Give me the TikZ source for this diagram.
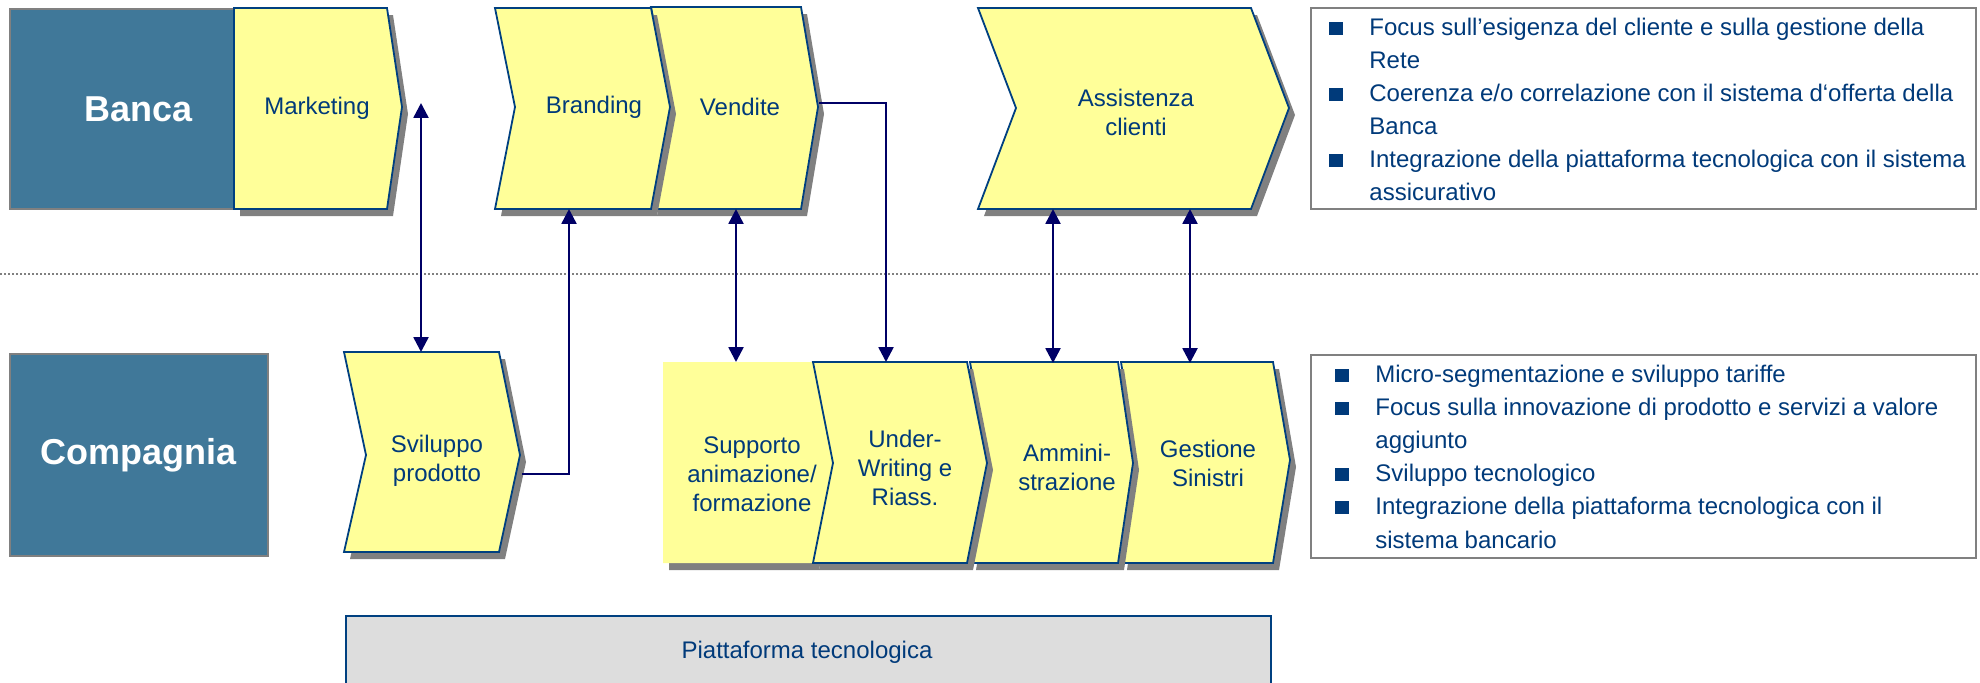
\documentclass[tikz,border=0pt]{standalone}
\usepackage{fontspec}
\setmainfont{Liberation Sans}
\usepackage{xcolor}
\definecolor{ColFill}{RGB}{255,255,153}
\definecolor{ColLine}{RGB}{0,64,128}
\definecolor{ColText}{RGB}{0,58,122}
\definecolor{ColHead}{RGB}{64,120,153}
\definecolor{ColArrow}{RGB}{0,0,102}
\definecolor{ColShadow}{RGB}{128,128,128}
\definecolor{ColPlat}{RGB}{221,221,221}
\usetikzlibrary{arrows.meta}
\tikzstyle{Chev}=[fill=ColFill,draw=ColLine,line width=0.9pt,line join=miter]
\tikzstyle{Shadow}=[fill=ColShadow]
\tikzstyle{Head}=[fill=ColHead,draw=ColShadow,line width=1pt,text=white,
font=\fontsize{18}{21}\selectfont\bfseries,minimum width=129pt,inner sep=0pt]
\tikzstyle{Label}=[text=ColText,align=center,font=\fontsize{12}{14.5}\selectfont,
inner sep=0pt]
\tikzstyle{Info}=[draw=ColShadow,line width=1pt,fill=white,minimum width=332.5pt,
inner sep=0pt]
\tikzstyle{InfoText}=[text=ColText,anchor=base west,
font=\fontsize{12}{16.5}\selectfont,inner sep=0pt]
\tikzstyle{Bullet}=[fill=ColText,minimum width=7pt,minimum height=6.5pt,inner sep=0pt]
\tikzstyle{Plat}=[fill=ColPlat,draw=ColLine,line width=1pt]
\tikzstyle{Link}=[draw=ColArrow,line width=1.25pt]
\tikzstyle{Sep}=[draw=ColShadow,line width=0.9pt,dash pattern=on 0.9pt off 1.1pt]
\newcommand{\Chevron}[8][]{%
  \fill[Shadow,shift={(6,7)}](#2,#6)--(#4,#6)--(#5,#7)--(#4,#8)--(#2,#8)--(#3,#7)--cycle;
  \path[Chev,#1](#2,#6)--(#4,#6)--(#5,#7)--(#4,#8)--(#2,#8)--(#3,#7)--cycle;}
\begin{document}
\begin{tikzpicture}[x=0.5pt,y=-0.5pt,>={Triangle[width=7.4pt,length=7.4pt]}]
    \useasboundingbox (0,0) rectangle (1980,682);
        \coordinate (sepl) at (0,274);
        \coordinate (sepr) at (1980,274);
        \draw[Sep](sepl)--(sepr);
        \node[Head,minimum height=100pt](banca)at(139,109){Banca};
        \node[Head,minimum height=101pt](comp)at(139,455){Compagnia};
        \Chevron{234}{234}{387}{402}{8}{107}{209}
        \Chevron{651}{670}{801}{818}{7}{107}{209}
        \Chevron{495}{515}{651}{670}{8}{107}{209}
        \Chevron{978}{1016}{1251}{1289}{8}{108}{209}
        \Chevron{344}{366}{499}{520}{352}{455}{552}
        \Chevron[draw=none]{663}{663}{813}{833}{362}{463}{563}
        \Chevron{1121}{1136}{1273}{1290}{362}{460}{563}
        \Chevron{970}{987}{1118}{1133}{362}{463}{563}
        \Chevron{813}{833}{967}{987}{362}{463}{563}
        \node[Label](mkt)at(317,108){Marketing};
        \node[Label](bra)at(594,107){Branding};
        \node[Label](ven)at(740,107){Vendite};
        \node[Label](ass)at(1136,112){Assistenza\\clienti};
        \node[Label](svi)at(437,461){Sviluppo\\prodotto};
        \node[Label](sup)at(752,474){Supporto\\animazione/\\formazione};
        \node[Label](und)at(905,468){Under-\\Writing e\\Riass.};
        \node[Label](amm)at(1067,467){Ammini-\\strazione};
        \node[Label](ges)at(1208,463){Gestione\\Sinistri};
        \node[Info,minimum height=100.5pt](infob)at(1643.5,108.5){};
        \node[Info,minimum height=101.5pt](infoc)at(1643.5,456.5){};
        \foreach \n/\t in {0/{Focus sull’esigenza del cliente e sulla gestione della},
            1/{Rete},2/{Coerenza e/o correlazione con il sistema d‘offerta della},
            3/{Banca},4/{Integrazione della piattaforma tecnologica con il sistema},
            5/{assicurativo}}
            \node[InfoText](tb\n)at(1369,{35+33*\n}){\t};
        \foreach \n in {0,2,4}
            \node[Bullet](tq\n)at(1336,{28+33*\n}){};
        \foreach \n/\t in {0/{Micro-segmentazione e sviluppo tariffe},
            1/{Focus sulla innovazione di prodotto e servizi a valore},
            2/{aggiunto},3/{Sviluppo tecnologico},
            4/{Integrazione della piattaforma tecnologica con il},
            5/{sistema bancario}}
            \node[InfoText](cb\n)at(1375,{382+33.2*\n}){\t};
        \foreach \n in {0,1,3,4}
            \node[Bullet](cq\n)at(1342,{375+33.2*\n}){};
        \draw[Plat](346,616)rectangle(1271,700);
        \node[Label](pla)at(807,652){Piattaforma tecnologica};
        \coordinate (mkt-p) at (421,103);
        \coordinate (svi-p) at (421,352);
        \coordinate (svi-o) at (522,474);
        \coordinate (bra-p) at (569,209);
        \coordinate (ven-p) at (736,209);
        \coordinate (sup-p) at (736,362);
        \coordinate (ven-o) at (819,103);
        \coordinate (und-p) at (886,362);
        \coordinate (ass-p) at (1053,209);
        \coordinate (amm-p) at (1053,363);
        \coordinate (ass-q) at (1190,209);
        \coordinate (ges-p) at (1190,363);
        \draw[Link,<->](mkt-p)--(svi-p);
        \draw[Link,->](svi-o)-|(bra-p);
        \draw[Link,<->](ven-p)--(sup-p);
        \draw[Link,->](ven-o)-|(und-p);
        \draw[Link,<->](ass-p)--(amm-p);
        \draw[Link,<->](ass-q)--(ges-p);
    \end{tikzpicture}
\end{document}
